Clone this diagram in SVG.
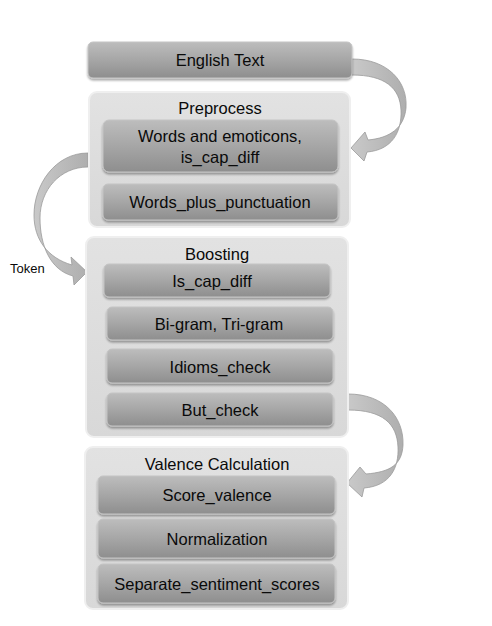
<svg xmlns="http://www.w3.org/2000/svg" width="492" height="626" viewBox="0 0 492 626">
<defs>
<linearGradient id="gBox" x1="0" y1="0" x2="0" y2="1">
<stop offset="0" stop-color="#bdbdbd"/>
<stop offset="0.5" stop-color="#a6a6a6"/>
<stop offset="1" stop-color="#8e8e8e"/>
</linearGradient>
<linearGradient id="gCont" x1="0" y1="0" x2="0" y2="1">
<stop offset="0" stop-color="#e2e2e2"/>
<stop offset="1" stop-color="#d8d8d8"/>
</linearGradient>
<linearGradient id="gArrow" x1="0" y1="0" x2="1" y2="0">
<stop offset="0" stop-color="#c9c9c9"/>
<stop offset="1" stop-color="#aeaeae"/>
</linearGradient>
<filter id="sh" x="-5%" y="-10%" width="110%" height="130%">
<feGaussianBlur in="SourceAlpha" stdDeviation="1"/>
<feOffset dx="0" dy="1.5" result="b"/>
<feComponentTransfer><feFuncA type="linear" slope="0.35"/></feComponentTransfer>
<feMerge><feMergeNode/><feMergeNode in="SourceGraphic"/></feMerge>
</filter>
</defs>
<style>
.box{fill:url(#gBox);stroke:#c4c4c4;stroke-width:1;filter:url(#sh)}
.cont{fill:url(#gCont);stroke:#efefef;stroke-width:2}
.t{font-family:"Liberation Sans",Arial,sans-serif;font-size:16.5px;fill:#0a0a0a;text-anchor:middle}
.arrow{fill:url(#gArrow);stroke:#9a9a9a;stroke-width:0.8}
</style>
<rect width="492" height="626" fill="#ffffff"/>

<g id="connectors">
<path class="arrow" d="M352,59 C388,59 408,82 406,108 C404,128 390,138 368,140 L365,132 L351,148 L364,161 L367,152 C392,150 402,132 401,110 C400,88 385,75 352,75 Z"/>
<path class="arrow" d="M88,153 C55,153 34,185 34,215 C34,240 48,258 72,265 L71,257 L87,272 L74,285 L73,276 C50,270 40,245 40,218 C40,190 60,167 88,167 Z"/>
<path class="arrow" d="M348,394 C385,394 404,418 403,445 C402,465 390,472 366,474 L360,467 L347,483 L362,497 L364,488 C390,486 399,468 398,447 C397,424 383,410 348,410 Z"/>
<text x="10" y="273" font-family="Liberation Sans, Arial, sans-serif" font-size="13" fill="#0a0a0a">Token</text>
</g>

<g id="english-text">
<rect class="box" x="88" y="42" width="264" height="36" rx="5"/>
<text class="t" x="220" y="66">English Text</text>
</g>

<g id="preprocess">
<rect class="cont" x="89" y="92" width="261" height="135" rx="8"/>
<text class="t" x="220" y="114">Preprocess</text>
<g id="words-emoticons">
<rect class="box" x="103" y="120" width="235" height="52" rx="6"/>
<text class="t" x="220" y="142">Words and emoticons,</text>
<text class="t" x="220" y="163">is_cap_diff</text>
</g>
<g id="words-plus-punctuation">
<rect class="box" x="103" y="184" width="235" height="36" rx="5"/>
<text class="t" x="220" y="208">Words_plus_punctuation</text>
</g>
</g>

<g id="boosting">
<rect class="cont" x="86" y="237" width="262" height="200" rx="8"/>
<text class="t" x="217" y="260">Boosting</text>
<g id="is-cap-diff">
<rect class="box" x="104" y="264" width="226" height="33" rx="5"/>
<text class="t" x="212" y="287">Is_cap_diff</text>
</g>
<g id="bigram">
<rect class="box" x="107" y="307" width="226" height="33" rx="5"/>
<text class="t" x="219" y="330">Bi-gram, Tri-gram</text>
</g>
<g id="idioms-check">
<rect class="box" x="107" y="349" width="226" height="34" rx="5"/>
<text class="t" x="220" y="373">Idioms_check</text>
</g>
<g id="but-check">
<rect class="box" x="107" y="393" width="226" height="33" rx="5"/>
<text class="t" x="220" y="416">But_check</text>
</g>
</g>

<g id="valence">
<rect class="cont" x="85" y="447" width="263" height="162" rx="8"/>
<text class="t" x="217" y="470">Valence Calculation</text>
<g id="score-valence">
<rect class="box" x="98" y="476" width="237" height="38" rx="5"/>
<text class="t" x="217" y="501">Score_valence</text>
</g>
<g id="normalization">
<rect class="box" x="98" y="519" width="237" height="39" rx="5"/>
<text class="t" x="217" y="545">Normalization</text>
</g>
<g id="separate">
<rect class="box" x="98" y="564" width="237" height="39" rx="5"/>
<text class="t" x="217" y="590">Separate_sentiment_scores</text>
</g>
</g>
</svg>
